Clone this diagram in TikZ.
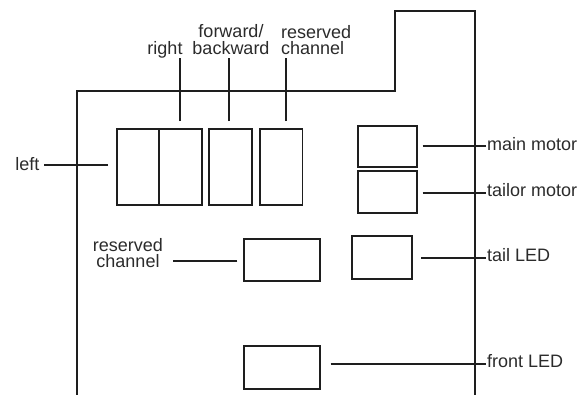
\documentclass[tikz,border=0pt]{standalone}
\usepackage{fontspec}
\setmainfont{Liberation Sans}
\usetikzlibrary{calc}
\definecolor{linec}{HTML}{1E1E1E}
\definecolor{textc}{HTML}{2B2B2B}
\tikzset{
  box/.style={draw=linec, line width=1.8pt, inner sep=0pt, anchor=north west},
  lead/.style={draw=linec, line width=2.1pt},
  outline/.style={draw=linec, line width=2pt},
  lbl/.style={text=textc, inner sep=0pt, font=\fontsize{18}{16.6}\selectfont},
}
\begin{document}
\begin{tikzpicture}[x=1pt, y=-1pt]
\useasboundingbox (0,0) rectangle (588,394);
% enclosure outline
\draw[outline] (76.7,396) -- (76.7,91) -- (395.3,91) -- (395.3,11.3) -- (474.5,11.3) -- (474.5,396);
% boxes
\node[box, minimum width=42.3pt, minimum height=75.7pt] (L1) at (115.7,128.3) {};
\node[box, minimum width=42.7pt, minimum height=75.7pt] (L2) at (158,128.3) {};
\node[box, minimum width=43pt, minimum height=75.7pt] (B3) at (207.7,128.3) {};
\node[box, minimum width=42.5pt, minimum height=75.7pt] (B4) at (259,128.3) {};
\node[box, minimum width=59.3pt, minimum height=41.7pt] (MM) at (356.7,124.7) {};
\node[box, minimum width=59.3pt, minimum height=42pt] (TM) at (356.7,170.2) {};
\node[box, minimum width=59.7pt, minimum height=43pt] (TL) at (351,234.7) {};
\node[box, minimum width=76pt, minimum height=42.3pt] (RC) at (243,237.7) {};
\node[box, minimum width=76pt, minimum height=42.7pt] (FL) at (243,345) {};
% labels
\node[lbl, anchor=base east] (leftlbl) at (39.5,170) {left};
\node[lbl, anchor=base] (rt) at (165,54.3) {right};
\node[lbl, anchor=north, align=center] (fb) at (231,24.6) {forward/\\backward};
\node[lbl, anchor=north west, align=left] (rct) at (281,24.8) {reserved\\channel};
\node[lbl, anchor=north, align=center] (rcm) at (128,238.1) {reserved\\channel};
\node[lbl, anchor=base west] (mm) at (487,150) {main motor};
\node[lbl, anchor=base west] (tm) at (487,196.7) {tailor motor};
\node[lbl, anchor=base west] (tl) at (487,261.7) {tail LED};
\node[lbl, anchor=base west] (fl) at (487,367.7) {front LED};
% leaders
\draw[lead] ($(L1.west)+(-7.7,-1.8)$) -- ($(L1.west -| leftlbl.east)+(4.5,-1.8)$);
\draw[lead] ($(L2.north)+(0,-7.3)$) -- ($(L2.north |- rt.base)+(0,3.7)$);
\draw[lead] ($(B3.north)+(-1,-7.3)$) -- ($(B3.north |- rt.base)+(-1,3.7)$);
\draw[lead] ($(B4.north)+(4.8,-7.3)$) -- ($(B4.north |- rt.base)+(4.8,3.7)$);
\draw[lead] ($(MM.east)+(4.7,-0.5)$) -- ($(MM.east -| mm.west)+(-1,-0.5)$);
\draw[lead] ($(TM.east)+(4.7,0.8)$) -- ($(TM.east -| tm.west)+(-1,0.8)$);
\draw[lead] ($(TL.east)+(8.6,0.8)$) -- ($(TL.east -| tl.west)+(-1,0.8)$);
\draw[lead] ($(FL.east)+(9.7,-3.4)$) -- ($(FL.east -| fl.west)+(-1,-3.4)$);
\draw[lead] ($(RC.west)+(-5.7,1.4)$) -- ($(RC.west -| rcm.east)+(9.7,1.4)$);
\end{tikzpicture}
\end{document}
